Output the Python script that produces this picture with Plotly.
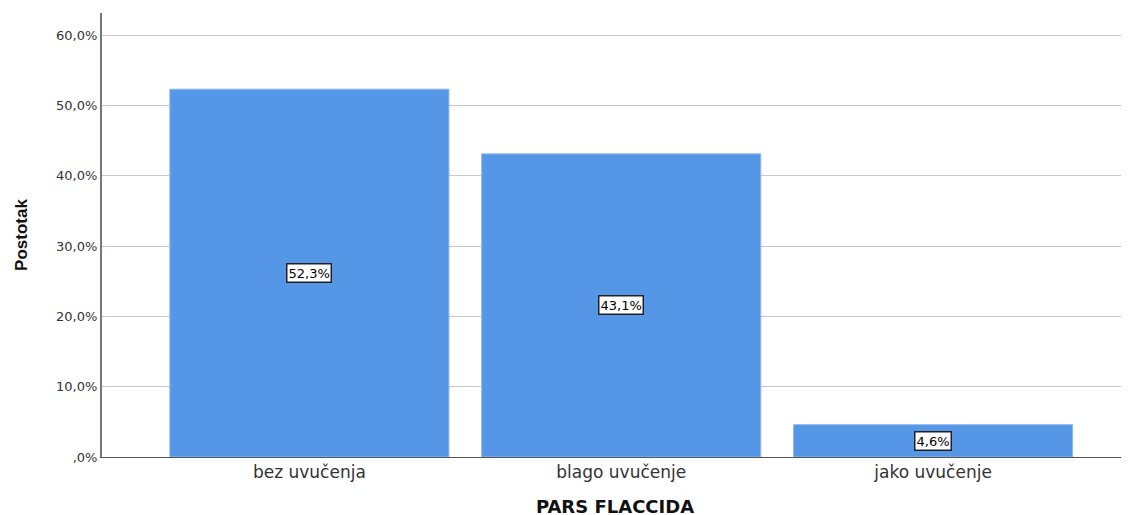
import plotly.graph_objects as go

categories = ["bez uvučenja", "blago uvučenje", "jako uvučenje"]
values = [52.3, 43.1, 4.6]
value_labels = ["52,3%", "43,1%", "4,6%"]
tick_vals = [0, 10, 20, 30, 40, 50, 60]
tick_text = [",0%", "10,0%", "20,0%", "30,0%", "40,0%", "50,0%", "60,0%"]

fig = go.Figure()
fig.add_trace(go.Bar(
    x=categories, y=values, width=0.895,
    marker=dict(color="#5596E6", line=dict(color="#8DB8EE", width=1)),
    hoverinfo="skip",
))

for c, v, t in zip(categories, values, value_labels):
    fig.add_annotation(
        x=c, y=v / 2, text=t, showarrow=False,
        font=dict(family="DejaVu Sans", size=13, color="black"),
        bgcolor="white", bordercolor="#222", borderwidth=1.5, borderpad=1,
    )

fig.update_layout(
    width=1129, height=515,
    margin=dict(l=94, r=9, t=5, b=66),
    plot_bgcolor="white", paper_bgcolor="white",
    showlegend=False,
    font=dict(family="DejaVu Sans", color="#222"),
    xaxis=dict(
        range=[-0.665, 2.625],
        showline=True, linecolor="#555", linewidth=1,
        ticks="", tickfont=dict(family="DejaVu Sans", size=17, color="#333"),
        title=dict(text="<b>PARS FLACCIDA</b>",
                   font=dict(family="DejaVu Sans", size=18, color="#111"), standoff=18),
    ),
    yaxis=dict(
        range=[0, 60 * (457 - 13) / 422],
        tickvals=tick_vals, ticktext=tick_text,
        showline=True, linecolor="#777", linewidth=2,
        showgrid=True, gridcolor="#C8C8C8", gridwidth=1,
        zeroline=False, ticks="", ticklen=0,
        tickfont=dict(family="DejaVu Sans", size=13, color="#333"),
        title=dict(text="<b>Postotak</b>",
                   font=dict(family="Liberation Sans", size=17, color="#111"), standoff=24),
    ),
)

fig.write_html("out.html")
